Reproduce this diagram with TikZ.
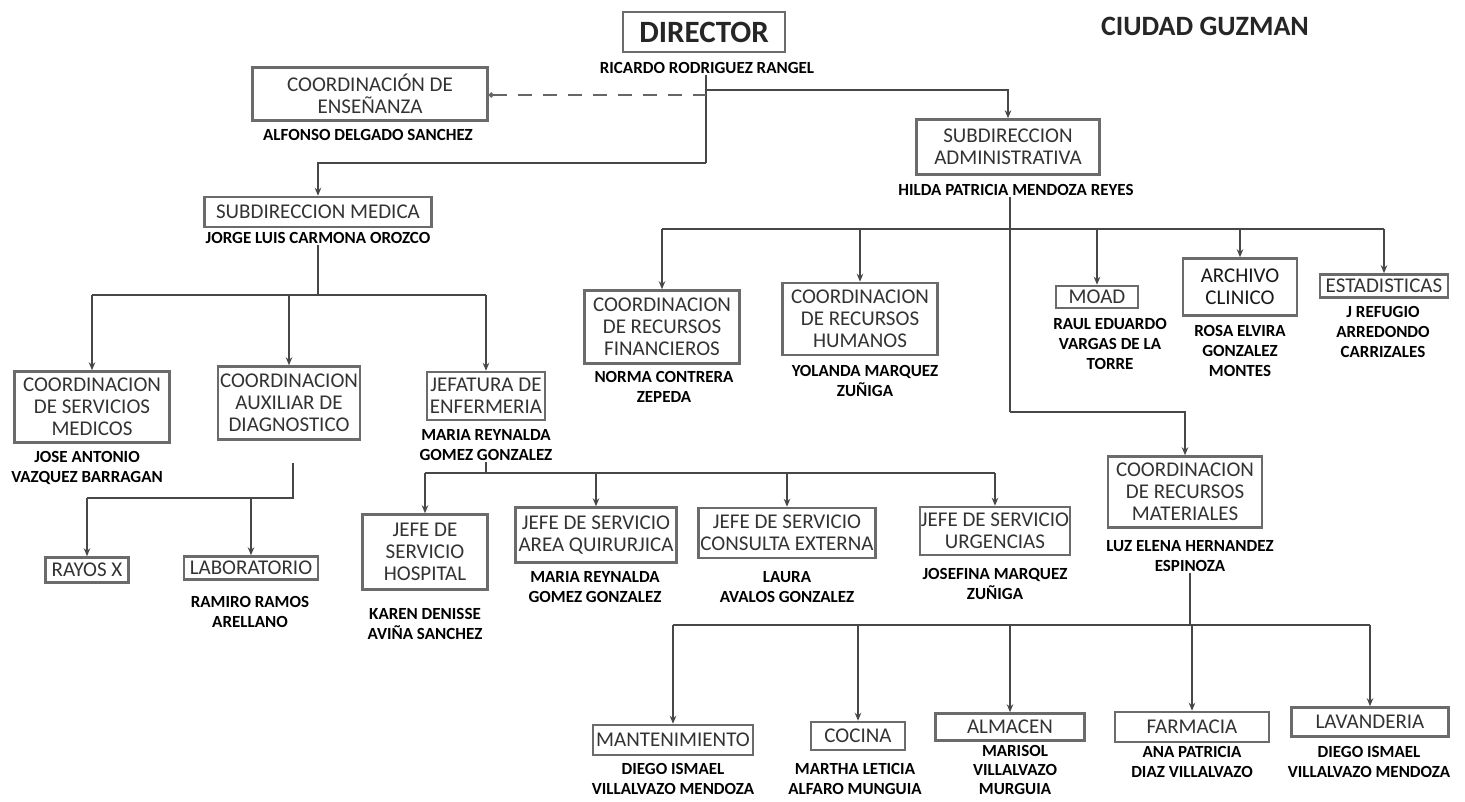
\documentclass[tikz,border=0pt]{standalone}
\usepackage{fontspec}
\setmainfont{Carlito}
\usetikzlibrary{arrows.meta}
\tikzset{
  ubox/.style={draw=black!58, line width=2.5pt, inner sep=0pt, align=center,
    text=black!80, font={\fontsize{21}{22}\selectfont}},
  nm/.style={inner sep=1pt, align=center, text=black, font={\bfseries\fontsize{17}{20}\selectfont}},
  ln/.style={draw=black!72, line width=1.6pt},
  arr/.style={ln, -{Stealth[length=8pt,width=6.5pt]}},
  dsh/.style={draw=black!60, line width=1.6pt, dash pattern=on 14pt off 11pt},
}
\begin{document}
\begin{tikzpicture}[x=1pt,y=-1pt]
\useasboundingbox[fill=white] (0,0) rectangle (1465,802);

% ---------- boxes ----------
\node[ubox, minimum width=162, minimum height=40, text=black!85, font={\bfseries\fontsize{31}{32}\selectfont}] (dir) at (704,32) {DIRECTOR};
\node[ubox, minimum width=235, minimum height=53] (ense) at (370,94) {COORDINACIÓN DE\\ENSEÑANZA};
\node[ubox, minimum width=227, minimum height=30] (submed) at (318,212) {SUBDIRECCION MEDICA};
\node[ubox, minimum width=183, minimum height=55] (subadm) at (1008,147) {SUBDIRECCION\\ADMINISTRATIVA};
\node[ubox, minimum width=155, minimum height=73] (fin) at (662,327) {COORDINACION\\DE RECURSOS\\FINANCIEROS};
\node[ubox, minimum width=155, minimum height=72] (hum) at (860,319) {COORDINACION\\DE RECURSOS\\HUMANOS};
\node[ubox, minimum width=82, minimum height=22] (moad) at (1097,297) {MOAD};
\node[ubox, minimum width=114, minimum height=57, text=black!90] (arch) at (1240,287) {ARCHIVO\\CLINICO};
\node[ubox, minimum width=128, minimum height=23] (est) at (1384,286) {ESTADISTICAS};
\node[ubox, minimum width=155, minimum height=71] (sm) at (92,407) {COORDINACION\\DE SERVICIOS\\MEDICOS};
\node[ubox, minimum width=142, minimum height=73] (aux) at (289,403) {COORDINACION\\AUXILIAR DE\\DIAGNOSTICO};
\node[ubox, minimum width=118, minimum height=48] (je) at (486,396) {JEFATURA DE\\ENFERMERIA};
\node[ubox, minimum width=83, minimum height=25] (rayos) at (87,570) {RAYOS X};
\node[ubox, minimum width=134, minimum height=23] (lab) at (251,568) {LABORATORIO};
\node[ubox, minimum width=125, minimum height=75] (hosp) at (425,552) {JEFE DE\\SERVICIO\\HOSPITAL};
\node[ubox, minimum width=161, minimum height=55] (quir) at (596,535) {JEFE DE SERVICIO\\AREA QUIRURJICA};
\node[ubox, minimum width=177, minimum height=50] (cons) at (787,533) {JEFE DE SERVICIO\\CONSULTA EXTERNA};
\node[ubox, minimum width=150, minimum height=48] (urg) at (995,531) {JEFE DE SERVICIO\\URGENCIAS};
\node[ubox, minimum width=154, minimum height=71] (mat) at (1185,492) {COORDINACION\\DE RECURSOS\\MATERIALES};
\node[ubox, minimum width=160, minimum height=30] (mant) at (673,740) {MANTENIMIENTO};
\node[ubox, minimum width=94, minimum height=28] (coc) at (858,736) {COCINA};
\node[ubox, minimum width=149, minimum height=27] (alm) at (1010,727) {ALMACEN};
\node[ubox, minimum width=154, minimum height=30] (farm) at (1192,727) {FARMACIA};
\node[ubox, minimum width=157, minimum height=29] (lav) at (1370,722) {LAVANDERIA};

% ---------- title ----------
\node[inner sep=0pt, text=black!85, font={\bfseries\fontsize{28}{30}\selectfont}] (city) at (1205,26) {CIUDAD GUZMAN};

% ---------- names ----------
\node[nm] (dirname) at (707,68) {RICARDO RODRIGUEZ RANGEL};
\node[nm] (ensename) at (368,135) {ALFONSO DELGADO SANCHEZ};
\node[nm] (medname) at (318,238) {JORGE LUIS CARMONA OROZCO};
\node[nm] (admname) at (1016,190) {HILDA PATRICIA MENDOZA REYES};
\node[nm] (finname) at (664,387) {NORMA CONTRERA\\ZEPEDA};
\node[nm] (humname) at (865,381) {YOLANDA MARQUEZ\\ZUÑIGA};
\node[nm] (moadname) at (1110,344) {RAUL EDUARDO\\VARGAS DE LA\\TORRE};
\node[nm] (archname) at (1240,351) {ROSA ELVIRA\\GONZALEZ\\MONTES};
\node[nm] (estname) at (1383,332) {J REFUGIO\\ARREDONDO\\CARRIZALES};
\node[nm] (smname) at (87,468) {JOSE ANTONIO\\VAZQUEZ BARRAGAN};
\node[nm] (jename) at (486,445) {MARIA REYNALDA\\GOMEZ GONZALEZ};
\node[nm] (labname) at (250,612) {RAMIRO RAMOS\\ARELLANO};
\node[nm] (hospname) at (425,624) {KAREN DENISSE\\AVIÑA SANCHEZ};
\node[nm] (quirname) at (595,587) {MARIA REYNALDA\\GOMEZ GONZALEZ};
\node[nm] (consname) at (787,587) {LAURA\\AVALOS GONZALEZ};
\node[nm] (urgname) at (995,584) {JOSEFINA MARQUEZ\\ZUÑIGA};
\node[nm] (matname) at (1190,556) {LUZ ELENA HERNANDEZ\\ESPINOZA};
\node[nm] (mantname) at (673,779) {DIEGO ISMAEL\\VILLALVAZO MENDOZA};
\node[nm] (cocname) at (855,779) {MARTHA LETICIA\\ALFARO MUNGUIA};
\node[nm, font={\bfseries\fontsize{17}{19}\selectfont}] (almname) at (1015,770) {MARISOL\\VILLALVAZO\\MURGUIA};
\node[nm] (farmname) at (1192,762) {ANA PATRICIA\\DIAZ VILLALVAZO};
\node[nm] (lavname) at (1369,762) {DIEGO ISMAEL\\VILLALVAZO MENDOZA};

% ---------- junction coordinates ----------
\coordinate (jtop) at (706,90);
\coordinate (jdash) at (706,95);
\coordinate (jd) at (706,163);
\coordinate (jm) at (318,295);
\coordinate (ja) at (1010,229);
\coordinate (va) at (1010,412);
\coordinate (ax) at (293,463);
\coordinate (jx) at (293,498);
\coordinate (jj) at (486,473);
\coordinate (jmt) at (1190,625);

% ---------- connectors ----------
% director
\draw[ln] (dirname.south -| jd) -- (jd);
\draw[arr] (jd) -| (submed.north);
\draw[arr] (jtop) -| (subadm.north);
\draw[dsh, {Circle[length=5pt]}-] (ense.east |- jdash) -- (jdash);

% subdireccion medica
\draw[ln] (medname.south) -- (jm);
\draw[ln] (sm.north |- jm) -- (je.north |- jm);
\foreach \n in {sm,aux,je} \draw[arr] (\n.north |- jm) -- (\n.north);

% auxiliar de diagnostico
\draw[ln] (ax) -- (jx) -- (rayos.north |- jx);
\draw[arr] (rayos.north |- jx) -- (rayos.north);
\draw[arr] (lab.north |- jx) -- (lab.north);

% jefatura de enfermeria
\draw[ln] (jename.south) -- (jj);
\draw[ln] (hosp.north |- jj) -- (urg.north |- jj);
\foreach \n in {hosp,quir,cons,urg} \draw[arr] (\n.north |- jj) -- (\n.north);

% subdireccion administrativa
\draw[ln] (admname.south -| va) -- (va);
\draw[arr] (va) -| (mat.north);
\draw[ln] (fin.north |- ja) -- (est.north |- ja);
\foreach \n in {fin,hum,moad,arch,est} \draw[arr] (\n.north |- ja) -- (\n.north);

% recursos materiales
\draw[ln] (matname.south) -- (jmt);
\draw[ln] (mant.north |- jmt) -- (lav.north |- jmt);
\foreach \n in {mant,coc,alm,farm,lav} \draw[arr] (\n.north |- jmt) -- (\n.north);
\end{tikzpicture}
\end{document}
